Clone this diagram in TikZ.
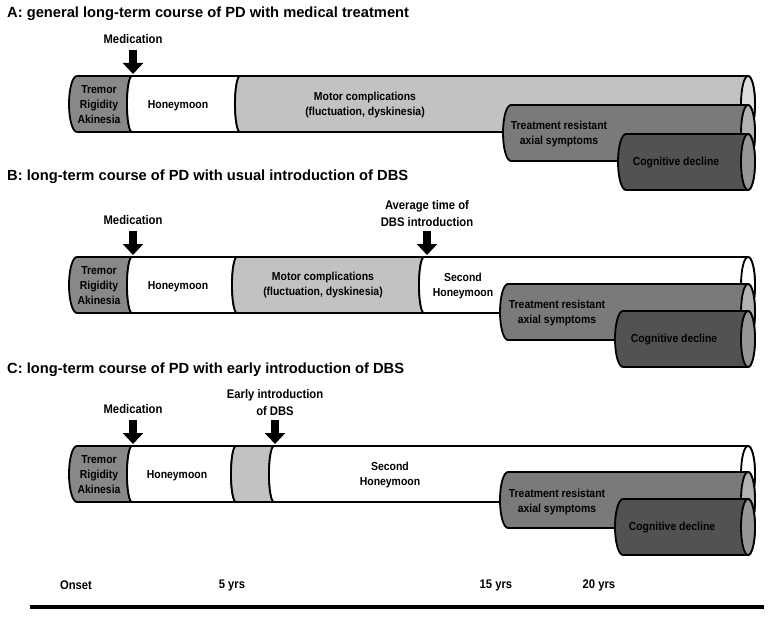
\documentclass[tikz,border=0pt]{standalone}
\usepackage{fontspec}
\setmainfont{Liberation Sans}
\newfontfamily\narrowfont[FakeStretch=0.9]{Liberation Sans}
\usetikzlibrary{arrows.meta, positioning}
\definecolor{tremorgray}{HTML}{888888}
\definecolor{motorgray}{HTML}{C2C2C2}
\definecolor{axialgray}{HTML}{7A7A7A}
\definecolor{axialface}{HTML}{B2B2B2}
\definecolor{cogngray}{HTML}{525252}
\definecolor{cognface}{HTML}{969696}
\definecolor{mainface}{HTML}{DEDEDE}
\newcommand{\CylEnd}{748}
% one piece of a tube: fill, left x, right x, top y, left radius
\newcommand{\Seg}[5]{%
  \filldraw[segline, fill=#1] (#2,#4) arc[start angle=270, end angle=90, x radius=#5, y radius=28]
    -- (#3,#4+56) arc[start angle=90, end angle=270, x radius=5, y radius=28] -- cycle;}
% last piece of a tube with its end face: fill, left x, top y, left radius, face fill
\newcommand{\Tail}[5]{%
  \filldraw[segline, fill=#1] (#2,#3) arc[start angle=270, end angle=90, x radius=#4, y radius=28]
    -- (\CylEnd,#3+56) arc[start angle=90, end angle=-90, x radius=7, y radius=28] -- cycle;
  \filldraw[segline, fill=#5] (\CylEnd,#3+28) ellipse[x radius=7, y radius=28];}
\tikzset{
    segline/.style={draw=black, line width=1.8pt, line join=round},
    lbl/.style={font=\narrowfont\bfseries\fontsize{11.6}{15}\selectfont, align=center, inner sep=0pt},
    ttl/.style={font=\bfseries\fontsize{14.7}{17}\selectfont, anchor=west, inner sep=0pt},
    pointer/.style={font=\narrowfont\bfseries\fontsize{12.5}{17}\selectfont, align=center, inner sep=0pt},
    bigarrow/.style={line width=8pt, -{Triangle[width=20pt, length=11pt]}},
}
\begin{document}
\begin{tikzpicture}[x=1pt, y=-1pt]
    \useasboundingbox[fill=white] (0,0) rectangle (768,623);

    % A
    \node[ttl] (titleA) at (7,14) {A: general long-term course of PD with medical treatment};
    \Seg{tremorgray}{77}{132}{76}{8}
    \Seg{white}{132}{240}{76}{5}
    \Tail{motorgray}{240}{76}{5}{mainface}
    \Tail{axialgray}{511}{105}{8}{axialface}
    \Tail{cogngray}{626}{134}{8}{cognface}
    \node[lbl] (tremA) at (99,105) {Tremor\\Rigidity\\Akinesia};
    \node[lbl] (honeyA) at (178,106) {Honeymoon};
    \node[lbl] (motorA) at (365,105) {Motor complications\\(fluctuation, dyskinesia)};
    \node[lbl] (axialA) at (559,134) {Treatment resistant\\axial symptoms};
    \node[lbl] (cognA) at (676,163) {Cognitive decline};
    \coordinate (medAtop) at (133,50);
    \coordinate (medAtip) at (133,74);
    \node[pointer, above=6pt of medAtop] (medA) {Medication};
    \draw[bigarrow] (medAtop) -- (medAtip);

    % B
    \node[ttl] (titleB) at (7,177) {B: long-term course of PD with usual introduction of DBS};
    \Seg{tremorgray}{77}{132}{257}{8}
    \Seg{white}{132}{237}{257}{5}
    \Seg{motorgray}{237}{424}{257}{5}
    \Tail{white}{424}{257}{5}{white}
    \Tail{axialgray}{508}{284}{8}{axialface}
    \Tail{cogngray}{623}{311}{8}{cognface}
    \node[lbl] (tremB) at (99,286) {Tremor\\Rigidity\\Akinesia};
    \node[lbl] (honeyB) at (178,287) {Honeymoon};
    \node[lbl] (motorB) at (323,285) {Motor complications\\(fluctuation, dyskinesia)};
    \node[lbl] (secondB) at (463,286) {Second\\Honeymoon};
    \node[lbl] (axialB) at (557,313) {Treatment resistant\\axial symptoms};
    \node[lbl] (cognB) at (674,340) {Cognitive decline};
    \coordinate (medBtop) at (133,231);
    \coordinate (medBtip) at (133,255);
    \node[pointer, above=6pt of medBtop] (medB) {Medication};
    \draw[bigarrow] (medBtop) -- (medBtip);
    \coordinate (dbsBtop) at (427,231);
    \coordinate (dbsBtip) at (427,255);
    \node[pointer, above=4pt of dbsBtop] (dbsB) {Average time of\\DBS introduction};
    \draw[bigarrow] (dbsBtop) -- (dbsBtip);

    % C
    \node[ttl] (titleC) at (7,370) {C: long-term course of PD with early introduction of DBS};
    \Seg{tremorgray}{77}{132}{446}{8}
    \Seg{white}{132}{236}{446}{5}
    \Seg{motorgray}{236}{274}{446}{5}
    \Tail{white}{274}{446}{5}{white}
    \Tail{axialgray}{508}{472}{8}{axialface}
    \Tail{cogngray}{623}{499}{8}{cognface}
    \node[lbl] (tremC) at (99,475) {Tremor\\Rigidity\\Akinesia};
    \node[lbl] (honeyC) at (177,476) {Honeymoon};
    \node[lbl] (secondC) at (390,475) {Second\\Honeymoon};
    \node[lbl] (axialC) at (557,502) {Treatment resistant\\axial symptoms};
    \node[lbl] (cognC) at (672,528) {Cognitive decline};
    \coordinate (medCtop) at (133,420);
    \coordinate (medCtip) at (133,444);
    \node[pointer, above=6pt of medCtop] (medC) {Medication};
    \draw[bigarrow] (medCtop) -- (medCtip);
    \coordinate (dbsCtop) at (275,420);
    \coordinate (dbsCtip) at (275,444);
    \node[pointer, above=4pt of dbsCtop] (dbsC) {Early introduction\\of DBS};
    \draw[bigarrow] (dbsCtop) -- (dbsCtip);

    % time axis
    \node[pointer] (onset) at (76,585) {Onset};
    \node[pointer] (yrs5) at (232,585) {5 yrs};
    \node[pointer] (yrs15) at (496,585) {15 yrs};
    \node[pointer] (yrs20) at (599,585) {20 yrs};
    \coordinate (axL) at (30,607);
    \coordinate (axR) at (764,607);
    \draw[line width=4pt] (axL) -- (axR);
\end{tikzpicture}
\end{document}
